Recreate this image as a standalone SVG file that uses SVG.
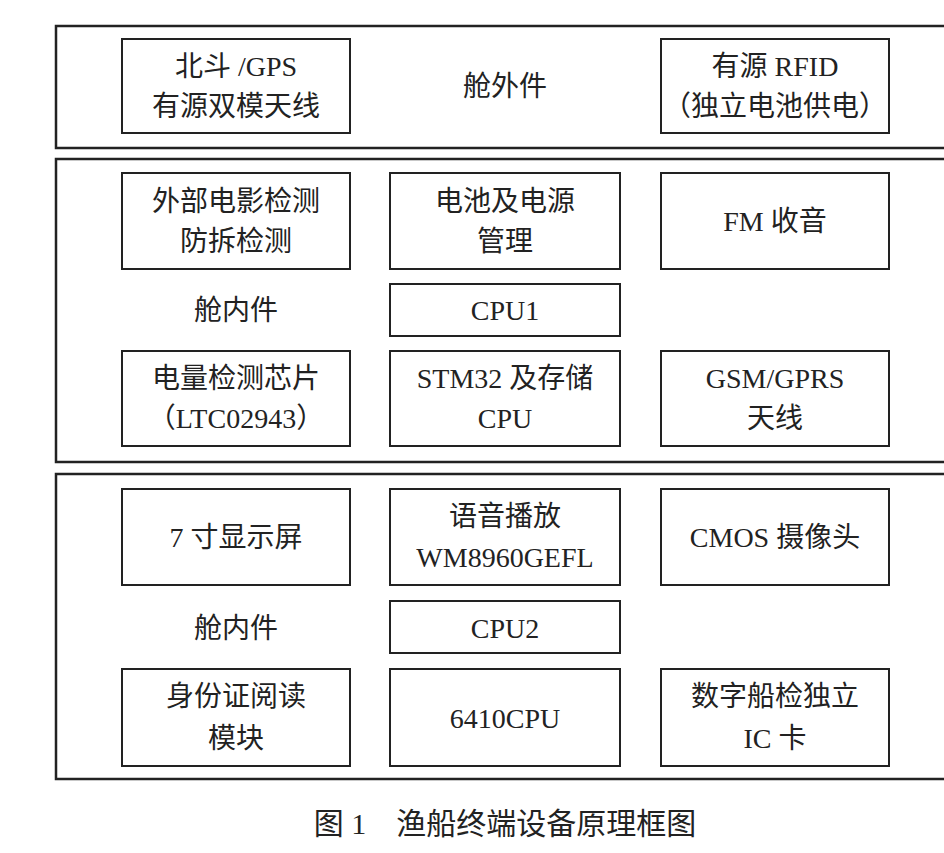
<svg xmlns="http://www.w3.org/2000/svg" width="944" height="853" viewBox="0 0 944 853">
<style>
.f{fill:none;stroke:#222;stroke-width:2.5}
.b{fill:#fff;stroke:#222;stroke-width:2}
text{font-family:"Liberation Serif","Noto Sans CJK SC",serif;font-size:28px;fill:#222;text-anchor:middle}
</style>
<rect width="944" height="853" fill="#fff"/>
<g id="frames">
<path class="f" d="M946 26H56V148H946"/>
<path class="f" d="M946 159H56V462H946"/>
<path class="f" d="M946 474H56V779H946"/>
</g>
<g id="n1"><rect class="b" x="122" y="39" width="228" height="94"/><text x="236" y="76">北斗 /GPS</text><text x="236" y="116">有源双模天线</text></g>
<g id="n2"><text x="505" y="96">舱外件</text></g>
<g id="n3"><rect class="b" x="661" y="39" width="228" height="94"/><text x="775" y="76">有源 RFID</text><text x="775" y="116">（独立电池供电）</text></g>
<g id="n4"><rect class="b" x="122" y="173" width="228" height="96"/><text x="236" y="211">外部电影检测</text><text x="236" y="251">防拆检测</text></g>
<g id="n5"><rect class="b" x="390" y="173" width="230" height="96"/><text x="505" y="211">电池及电源</text><text x="505" y="251">管理</text></g>
<g id="n6"><rect class="b" x="661" y="173" width="228" height="96"/><text x="775" y="231">FM 收音</text></g>
<g id="n7"><text x="236" y="320">舱内件</text></g>
<g id="n8"><rect class="b" x="390" y="284" width="230" height="52"/><text x="505" y="320">CPU1</text></g>
<g id="n9"><rect class="b" x="122" y="351" width="228" height="95"/><text x="236" y="388">电量检测芯片</text><text x="236" y="428">（LTC02943）</text></g>
<g id="n10"><rect class="b" x="390" y="351" width="230" height="95"/><text x="505" y="388">STM32 及存储</text><text x="505" y="428">CPU</text></g>
<g id="n11"><rect class="b" x="661" y="351" width="228" height="95"/><text x="775" y="388">GSM/GPRS</text><text x="775" y="428">天线</text></g>
<g id="n12"><rect class="b" x="122" y="489" width="228" height="96"/><text x="236" y="547">7 寸显示屏</text></g>
<g id="n13"><rect class="b" x="390" y="489" width="230" height="96"/><text x="505" y="526">语音播放</text><text x="505" y="567">WM8960GEFL</text></g>
<g id="n14"><rect class="b" x="661" y="489" width="228" height="96"/><text x="775" y="547">CMOS 摄像头</text></g>
<g id="n15"><text x="236" y="638">舱内件</text></g>
<g id="n16"><rect class="b" x="390" y="601" width="230" height="52"/><text x="505" y="638">CPU2</text></g>
<g id="n17"><rect class="b" x="122" y="669" width="228" height="97"/><text x="236" y="706">身份证阅读</text><text x="236" y="748">模块</text></g>
<g id="n18"><rect class="b" x="390" y="669" width="230" height="97"/><text x="505" y="728">6410CPU</text></g>
<g id="n19"><rect class="b" x="661" y="669" width="228" height="97"/><text x="775" y="706">数字船检独立</text><text x="775" y="748">IC 卡</text></g>
<g id="caption"><text x="505" y="834" style="font-size:30px">图 1　渔船终端设备原理框图</text></g>
</svg>
